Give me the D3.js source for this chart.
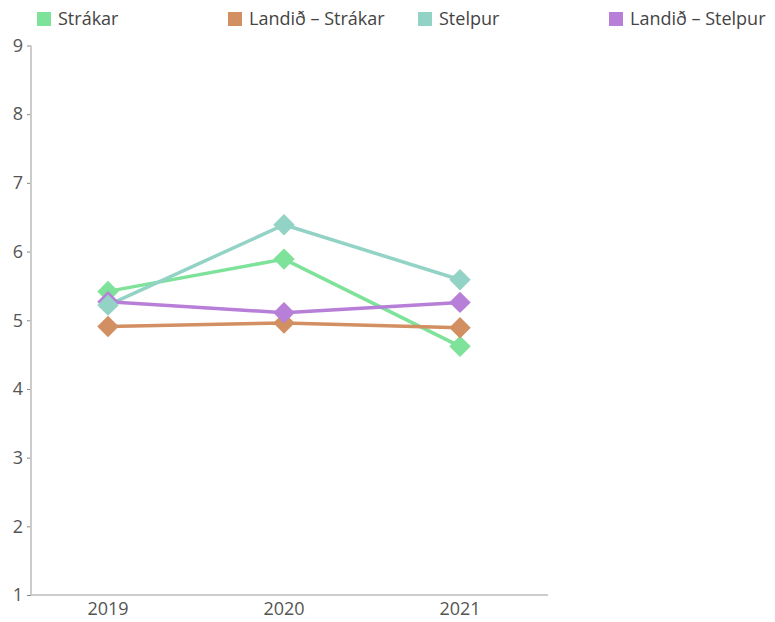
<!DOCTYPE html>
<html>
<head>
<meta charset="utf-8">
<script src="https://cdn.jsdelivr.net/npm/d3@7"></script>
<style>
  html, body { margin: 0; padding: 0; background: #fff; }
  svg { display: block; font-family: "Open Sans", "Noto Sans", sans-serif; }
</style>
</head>
<body>
<svg id="chart" width="775" height="622"></svg>
<script>
// Years on the x axis
const years = ["2019", "2020", "2021"];

// Series names, in legend order
const seriesNames = ["Strákar", "Landið – Strákar", "Stelpur", "Landið – Stelpur"];

// Values per series, one per year
const strakar = [5.42, 5.89, 4.62];
const landidStrakar = [4.91, 4.96, 4.89];
const stelpur = [5.22, 6.39, 5.59];
const landidStelpur = [5.27, 5.11, 5.26];

// Y axis ticks
const yTicks = [1, 2, 3, 4, 5, 6, 7, 8, 9];

const colors = ["#7ee29a", "#d28f62", "#93d3c5", "#b77fd8"];
const seriesValues = [strakar, landidStrakar, stelpur, landidStelpur];

const series = seriesNames.map((name, i) => ({
  name,
  color: colors[i],
  values: years.map((y, j) => ({ year: y, value: seriesValues[i][j] }))
}));

const FONT = "'Open Sans', 'Noto Sans', sans-serif";
const svg = d3.select("#chart");

const x = d3.scaleBand().domain(years).range([20, 548]);
const y = d3.scaleLinear().domain([1, 9]).range([595, 45.5]);
const cx = d => x(d) + x.bandwidth() / 2;

// Y axis
const yAxis = svg.append("g").attr("transform", "translate(31,0)")
  .call(d3.axisLeft(y).tickValues(yTicks).tickSize(4).tickPadding(4).tickFormat(d3.format("d")));
yAxis.select(".domain").remove();
yAxis.selectAll(".tick line").attr("stroke", "#888").attr("stroke-width", 1);
yAxis.selectAll(".tick text").attr("fill", "#555").attr("font-size", 18)
  .attr("font-family", FONT);

svg.append("line")
  .attr("x1", 31).attr("x2", 31).attr("y1", y(9)).attr("y2", y(1))
  .attr("stroke", "#cccccc").attr("stroke-width", 2);

// X axis
const xAxis = svg.append("g").attr("transform", `translate(0,${y(1)})`)
  .call(d3.axisBottom(x).tickSize(0).tickPadding(7));
xAxis.select(".domain").remove();
xAxis.selectAll(".tick text").attr("fill", "#555").attr("font-size", 18)
  .attr("font-family", FONT);

svg.append("line")
  .attr("x1", 31).attr("x2", 548).attr("y1", y(1)).attr("y2", y(1))
  .attr("stroke", "#cccccc").attr("stroke-width", 2);

// Lines
const line = d3.line().x(d => cx(d.year)).y(d => y(d.value));
svg.append("g").selectAll("path").data(series).join("path")
  .attr("d", d => line(d.values))
  .attr("fill", "none")
  .attr("stroke", d => d.color)
  .attr("stroke-width", 3.5)
  .attr("stroke-linejoin", "round");

// Diamond markers (teal series drawn last so it sits on top)
const markerOrder = [0, 1, 3, 2].map(i => series[i]);
const diamond = d3.symbol().type(d3.symbolSquare).size(230);
const mg = svg.append("g");
markerOrder.forEach(s => {
  mg.selectAll(null).data(s.values).join("path")
    .attr("d", diamond)
    .attr("transform", d => `translate(${cx(d.year)},${y(d.value)}) rotate(45)`)
    .attr("fill", s.color);
});

// Legend
const legend = svg.append("g");
const legendX = [37, 228, 418, 609];
series.forEach((s, i) => {
  const g = legend.append("g").attr("transform", `translate(${legendX[i]},12)`);
  g.append("rect").attr("width", 14).attr("height", 14).attr("fill", s.color);
  g.append("text").attr("x", 21).attr("y", 13)
    .attr("font-size", 18).attr("fill", "#444").text(s.name);
});
</script>
</body>
</html>
